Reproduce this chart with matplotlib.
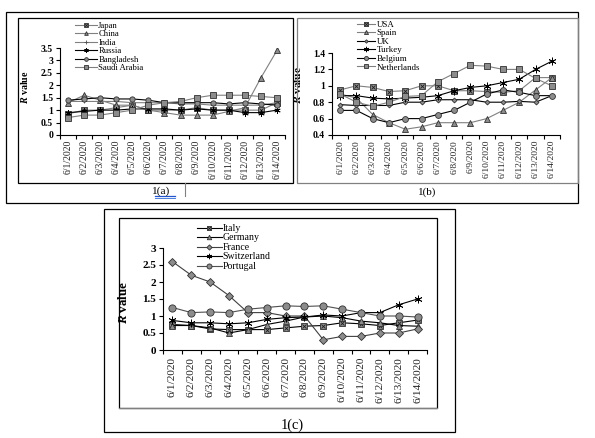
import numpy as np
import matplotlib
matplotlib.use("Agg")
import matplotlib.pyplot as plt
from matplotlib.patches import Rectangle
from matplotlib.lines import Line2D
from matplotlib.legend_handler import HandlerTuple

plt.rcParams['font.family'] = ['Liberation Serif', 'DejaVu Serif']
plt.rcParams['mathtext.fontset'] = 'custom'
plt.rcParams['mathtext.rm'] = 'Liberation Serif'
plt.rcParams['mathtext.it'] = 'Liberation Serif:italic'
plt.rcParams['mathtext.bf'] = 'Liberation Serif:bold'
plt.rcParams['mathtext.bfit'] = 'Liberation Serif:bold:italic'

dates = ['6/1/2020', '6/2/2020', '6/3/2020', '6/4/2020', '6/5/2020', '6/6/2020', '6/7/2020',
         '6/8/2020', '6/9/2020', '6/10/2020', '6/11/2020', '6/12/2020', '6/13/2020', '6/14/2020']

# panel 1(a)
japan = [0.85, 1.0, 1.0, 1.1, 1.2, 1.0, 1.0, 1.0, 1.1, 1.0, 1.0, 1.0, 1.0, 1.3]
china = [1.3, 1.6, 1.4, 1.2, 1.2, 1.0, 0.9, 0.8, 0.8, 0.8, 0.95, 1.1, 2.3, 3.4]
india = [1.35, 1.35, 1.35, 1.35, 1.3, 1.3, 1.3, 1.25, 1.25, 1.2, 1.2, 1.2, 1.2, 1.3]
russia = [0.9, 0.95, 1.0, 1.0, 1.05, 1.05, 1.05, 1.0, 1.05, 1.0, 1.0, 0.9, 0.9, 1.0]
bangladesh = [1.4, 1.45, 1.5, 1.45, 1.45, 1.4, 1.3, 1.3, 1.3, 1.3, 1.25, 1.3, 1.25, 1.2]
saudi = [0.7, 0.8, 0.8, 0.9, 1.0, 1.2, 1.3, 1.35, 1.5, 1.6, 1.6, 1.6, 1.55, 1.5]

# panel 1(b)
usa = [0.95, 1.0, 0.98, 0.93, 0.94, 1.0, 1.0, 0.94, 0.94, 0.93, 0.92, 0.94, 1.1, 1.1]
spain = [0.9, 0.85, 0.65, 0.55, 0.47, 0.5, 0.55, 0.55, 0.55, 0.6, 0.7, 0.8, 0.95, 1.1]
uk = [0.77, 0.76, 0.76, 0.76, 0.8, 0.8, 0.83, 0.83, 0.83, 0.8, 0.8, 0.81, 0.8, 0.88]
turkey = [0.88, 0.88, 0.85, 0.84, 0.85, 0.86, 0.88, 0.94, 0.98, 1.0, 1.04, 1.08, 1.2, 1.3]
belgium = [0.7, 0.7, 0.6, 0.55, 0.6, 0.6, 0.65, 0.7, 0.8, 0.9, 0.95, 0.92, 0.88, 0.88]
netherlands = [0.9, 0.8, 0.75, 0.8, 0.87, 0.88, 1.05, 1.15, 1.25, 1.24, 1.2, 1.2, 1.09, 1.0]

# panel 1(c)
italy = [0.75, 0.72, 0.62, 0.6, 0.6, 0.6, 0.65, 0.7, 0.72, 0.8, 0.77, 0.72, 0.8, 0.88]
germany = [0.72, 0.72, 0.65, 0.5, 0.6, 0.75, 0.85, 0.97, 1.0, 0.95, 0.85, 0.8, 0.72, 0.7]
france = [2.6, 2.2, 2.0, 1.6, 1.1, 1.1, 1.0, 1.0, 0.3, 0.4, 0.4, 0.5, 0.5, 0.62]
switzerland = [0.87, 0.8, 0.8, 0.77, 0.8, 0.9, 0.95, 0.97, 1.03, 1.0, 1.1, 1.1, 1.33, 1.5]
portugal = [1.25, 1.1, 1.12, 1.1, 1.2, 1.25, 1.3, 1.28, 1.3, 1.2, 1.1, 1.0, 1.0, 0.97]

W, H = 595, 438
fig = plt.figure(figsize=(W / 100, H / 100), dpi=100)

GRAY = '#808080'
MFC = '#8c8c8c'
EDGE = '#303030'
ASTER = (6, 2, 0)


def fx(x):
    return x / W


def fy(y):
    return 1 - y / H


def box(x0, y0, x1, y1, color='black', lw=0.9):
    fig.add_artist(Rectangle((fx(x0), fy(y1)), fx(x1) - fx(x0), fy(y0) - fy(y1),
                             transform=fig.transFigure, fill=False, ec=color, lw=lw))


def hline(x0, x1, y, color='black', lw=0.9):
    fig.add_artist(Line2D([fx(x0), fx(x1)], [fy(y), fy(y)], transform=fig.transFigure, color=color, lw=lw))


def vline(x, y0, y1, color='black', lw=0.9):
    fig.add_artist(Line2D([fx(x), fx(x)], [fy(y0), fy(y1)], transform=fig.transFigure, color=color, lw=lw))


def series(ax, y, lc, mk, ms, mfc=MFC, mec=EDGE, boxx=False):
    x = np.arange(len(y))
    ln, = ax.plot(x, y, color=lc, lw=0.8, marker=mk, ms=ms, mfc=mfc, mec=mec, mew=0.6)
    if boxx:
        ov, = ax.plot(x, y, ls='none', marker='x', ms=ms * 0.75, mec='#202020', mew=0.6)
        return (ln, ov)
    return ln


def style_axis(ax, ylim, yticks, ylabels, fsy, fsx, xpad):
    ax.set_xlim(-0.5, 13.5)
    ax.set_ylim(*ylim)
    ax.patch.set_alpha(0)
    for s in ['top', 'right']:
        ax.spines[s].set_visible(False)
    for s in ['left', 'bottom']:
        ax.spines[s].set_linewidth(0.8)
    ax.set_xticks(np.arange(14))
    ax.set_xticklabels(dates, rotation=90, fontsize=fsx, color='#222222')
    ax.set_xticks(np.arange(-0.5, 14), minor=True)
    ax.tick_params(axis='x', which='major', length=0, pad=xpad)
    ax.tick_params(axis='x', which='minor', length=3, width=0.8, direction='out')
    ax.set_yticks(yticks)
    ax.set_yticklabels(ylabels, fontweight='bold', fontsize=fsy)
    ax.tick_params(axis='y', length=3, width=0.8, pad=2)


def legend(ax, handles, labels, x, ytop, fs, hl, hp, sp):
    ax.legend(handles, labels, loc='upper left', bbox_to_anchor=(fx(x), fy(ytop)),
              bbox_transform=fig.transFigure, frameon=False, fontsize=fs, borderpad=0,
              borderaxespad=0, handlelength=hl, handletextpad=hp, labelspacing=sp,
              markerscale=0.7, handler_map={tuple: HandlerTuple(ndivide=1)})


# frames
box(6, 12, 578, 203)
box(18, 18, 293, 183)
box(297, 18, 578, 183, color=GRAY)
vline(185, 183, 196, color=GRAY, lw=0.8)
box(104, 209, 455, 432)
box(119, 218, 437, 408)
hline(119, 437, 408, color=GRAY)

# 1(a)
ax_a = fig.add_axes([fx(60), fy(135), fx(285) - fx(60), fy(48) - fy(135)])
h = [series(ax_a, japan, GRAY, 's', 3.8, boxx=True),
     series(ax_a, china, GRAY, '^', 3.8),
     series(ax_a, india, GRAY, '+', 3.5, mec='#505050'),
     series(ax_a, russia, 'black', ASTER, 4.5, mec='black'),
     series(ax_a, bangladesh, 'black', 'o', 3.8),
     series(ax_a, saudi, GRAY, 's', 4.2)]
style_axis(ax_a, (0, 3.5), np.arange(0, 3.51, 0.5),
           ['0', '0.5', '1', '1.5', '2', '2.5', '3', '3.5'], 7, 7, 3.5)
ax_a.set_ylabel(r'$\mathbfit{R}$ value', fontweight='bold', fontsize=7.2)
ax_a.yaxis.set_label_coords(fx(30), fy(87), transform=fig.transFigure)
legend(ax_a, h, ['Japan', 'China', 'India', 'Russia', 'Bangladesh', 'Saudi Arabia'],
       75, 21.5, 6.2, 2.55, 0.15, 0.06)
fig.text(fx(160), fy(191), '1(a)', fontsize=8.2, ha='center', va='center')
hline(155, 175, 195.5, color='#2255cc', lw=0.9)
hline(155, 175, 197.5, color='#4d7fe0', lw=0.7)

# 1(b)
ax_b = fig.add_axes([fx(332), fy(135), fx(560) - fx(332), fy(53) - fy(135)])
h = [series(ax_b, usa, GRAY, 's', 4.2, boxx=True),
     series(ax_b, spain, GRAY, '^', 4.2),
     series(ax_b, uk, 'black', 'D', 2.5),
     series(ax_b, turkey, 'black', ASTER, 5.5, mec='black'),
     series(ax_b, belgium, 'black', 'o', 4.2),
     series(ax_b, netherlands, GRAY, 's', 4.6)]
style_axis(ax_b, (0.4, 1.4), np.arange(0.4, 1.41, 0.2),
           ['0.4', '0.6', '0.8', '1', '1.2', '1.4'], 7, 6.8, 3.5)
ax_b.set_ylabel(r'$\mathbfit{R}$ value', fontweight='bold', fontsize=8.2)
ax_b.yaxis.set_label_coords(fx(303), fy(85), transform=fig.transFigure)
legend(ax_b, h, ['USA', 'Spain', 'UK', 'Turkey', 'Belgium', 'Netherlands'],
       357, 20.5, 6.4, 2.0, 0.2, 0.04)
fig.text(fx(427), fy(192), '1(b)', fontsize=8, ha='center', va='center')

# 1(c)
ax_c = fig.add_axes([fx(163), fy(350), fx(427) - fx(163), fy(248) - fy(350)])
h = [series(ax_c, italy, 'black', 's', 4.6, boxx=True),
     series(ax_c, germany, 'black', '^', 4.6),
     series(ax_c, france, '#404040', 'D', 3.8),
     series(ax_c, switzerland, 'black', ASTER, 5.5, mec='black'),
     series(ax_c, portugal, '#505050', 'o', 5.2)]
style_axis(ax_c, (0, 3), np.arange(0, 3.01, 0.5),
           ['0', '0.5', '1', '1.5', '2', '2.5', '3'], 8, 8.2, 5)
ax_c.set_ylabel(r'$\mathbfit{R}$ value', fontweight='bold', fontsize=9.4)
ax_c.yaxis.set_label_coords(fx(130), fy(302), transform=fig.transFigure)
legend(ax_c, h, ['Italy', 'Germany', 'France', 'Switzerland', 'Portugal'],
       197, 224, 7.1, 2.5, 0.1, 0.05)
fig.text(fx(292), fy(425), '1(c)', fontsize=10.4, ha='center', va='center')

fig.savefig('out.png', dpi=100)
